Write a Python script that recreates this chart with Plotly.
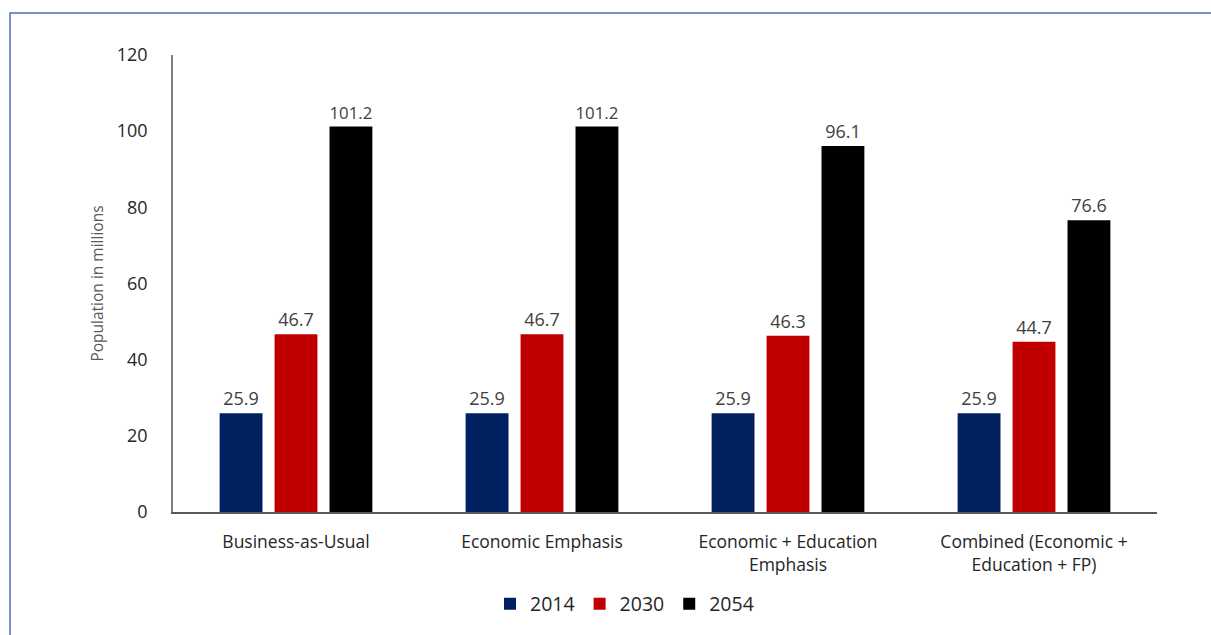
import plotly.graph_objects as go

# Scenario categories and projected population (millions)
categories = [
    "Business-as-Usual",
    "Economic Emphasis",
    "Economic + Education<br>Emphasis",
    "Combined (Economic +<br>Education + FP)",
]
years = ["2014", "2030", "2054"]
pop_2014 = [25.9, 25.9, 25.9, 25.9]
pop_2030 = [46.7, 46.7, 46.3, 44.7]
pop_2054 = [101.2, 101.2, 96.1, 76.6]
colors = ["#002060", "#C00000", "#000000"]

FONT = "Open Sans"

fig = go.Figure()
for name, vals, col in zip(years, [pop_2014, pop_2030, pop_2054], colors):
    fig.add_trace(go.Bar(
        x=categories,
        y=vals,
        name=name,
        marker=dict(color=col, line=dict(width=0)),
        text=[f"{v:.1f}" for v in vals],
        textposition="outside",
        textfont=dict(family=FONT, size=18, color="#404040"),
        cliponaxis=False,
    ))

W, H = 1211, 635
L, R, T, B = 173, 54, 55, 123
pw, ph = W - L - R, H - T - B

def px_x(p):
    return (p - L) / pw

def px_y(p):
    return (H - B - p) / ph

# Outer frame around the chart
fig.add_shape(
    type="rect", xref="paper", yref="paper",
    x0=px_x(10), x1=px_x(1300), y0=px_y(700), y1=px_y(13),
    line=dict(color="#4F6DB0", width=1.5),
    fillcolor="rgba(0,0,0,0)", layer="below",
)

fig.update_layout(
    width=W, height=H,
    margin=dict(l=L, r=R, t=T, b=B, autoexpand=False),
    paper_bgcolor="white",
    plot_bgcolor="white",
    barmode="group",
    bargap=0.33,
    bargroupgap=0.22,
    font=dict(family=FONT, color="#262626"),
    showlegend=True,
    legend=dict(
        orientation="h",
        x=px_x(490), xanchor="left",
        y=px_y(604), yanchor="middle",
        font=dict(family=FONT, size=19.5, color="#262626"),
        itemwidth=30,
        traceorder="normal",
        bgcolor="rgba(0,0,0,0)",
    ),
    xaxis=dict(
        showline=True, linecolor="#595959", linewidth=1.5,
        showgrid=False, ticks="", ticklabelstandoff=13,
        tickfont=dict(family=FONT, size=17.5, color="#262626"),
    ),
    yaxis=dict(
        range=[0, 120], dtick=20,
        showline=True, linecolor="#7F7F7F", linewidth=1.5,
        showgrid=False, zeroline=False,
        ticks="", ticklabelstandoff=20,
        tickfont=dict(family=FONT, size=18, color="#262626"),
        title=dict(text="Population in millions", standoff=9,
                   font=dict(family=FONT, size=15.5, color="#595959")),
    ),
)

fig.write_html("out.html")
